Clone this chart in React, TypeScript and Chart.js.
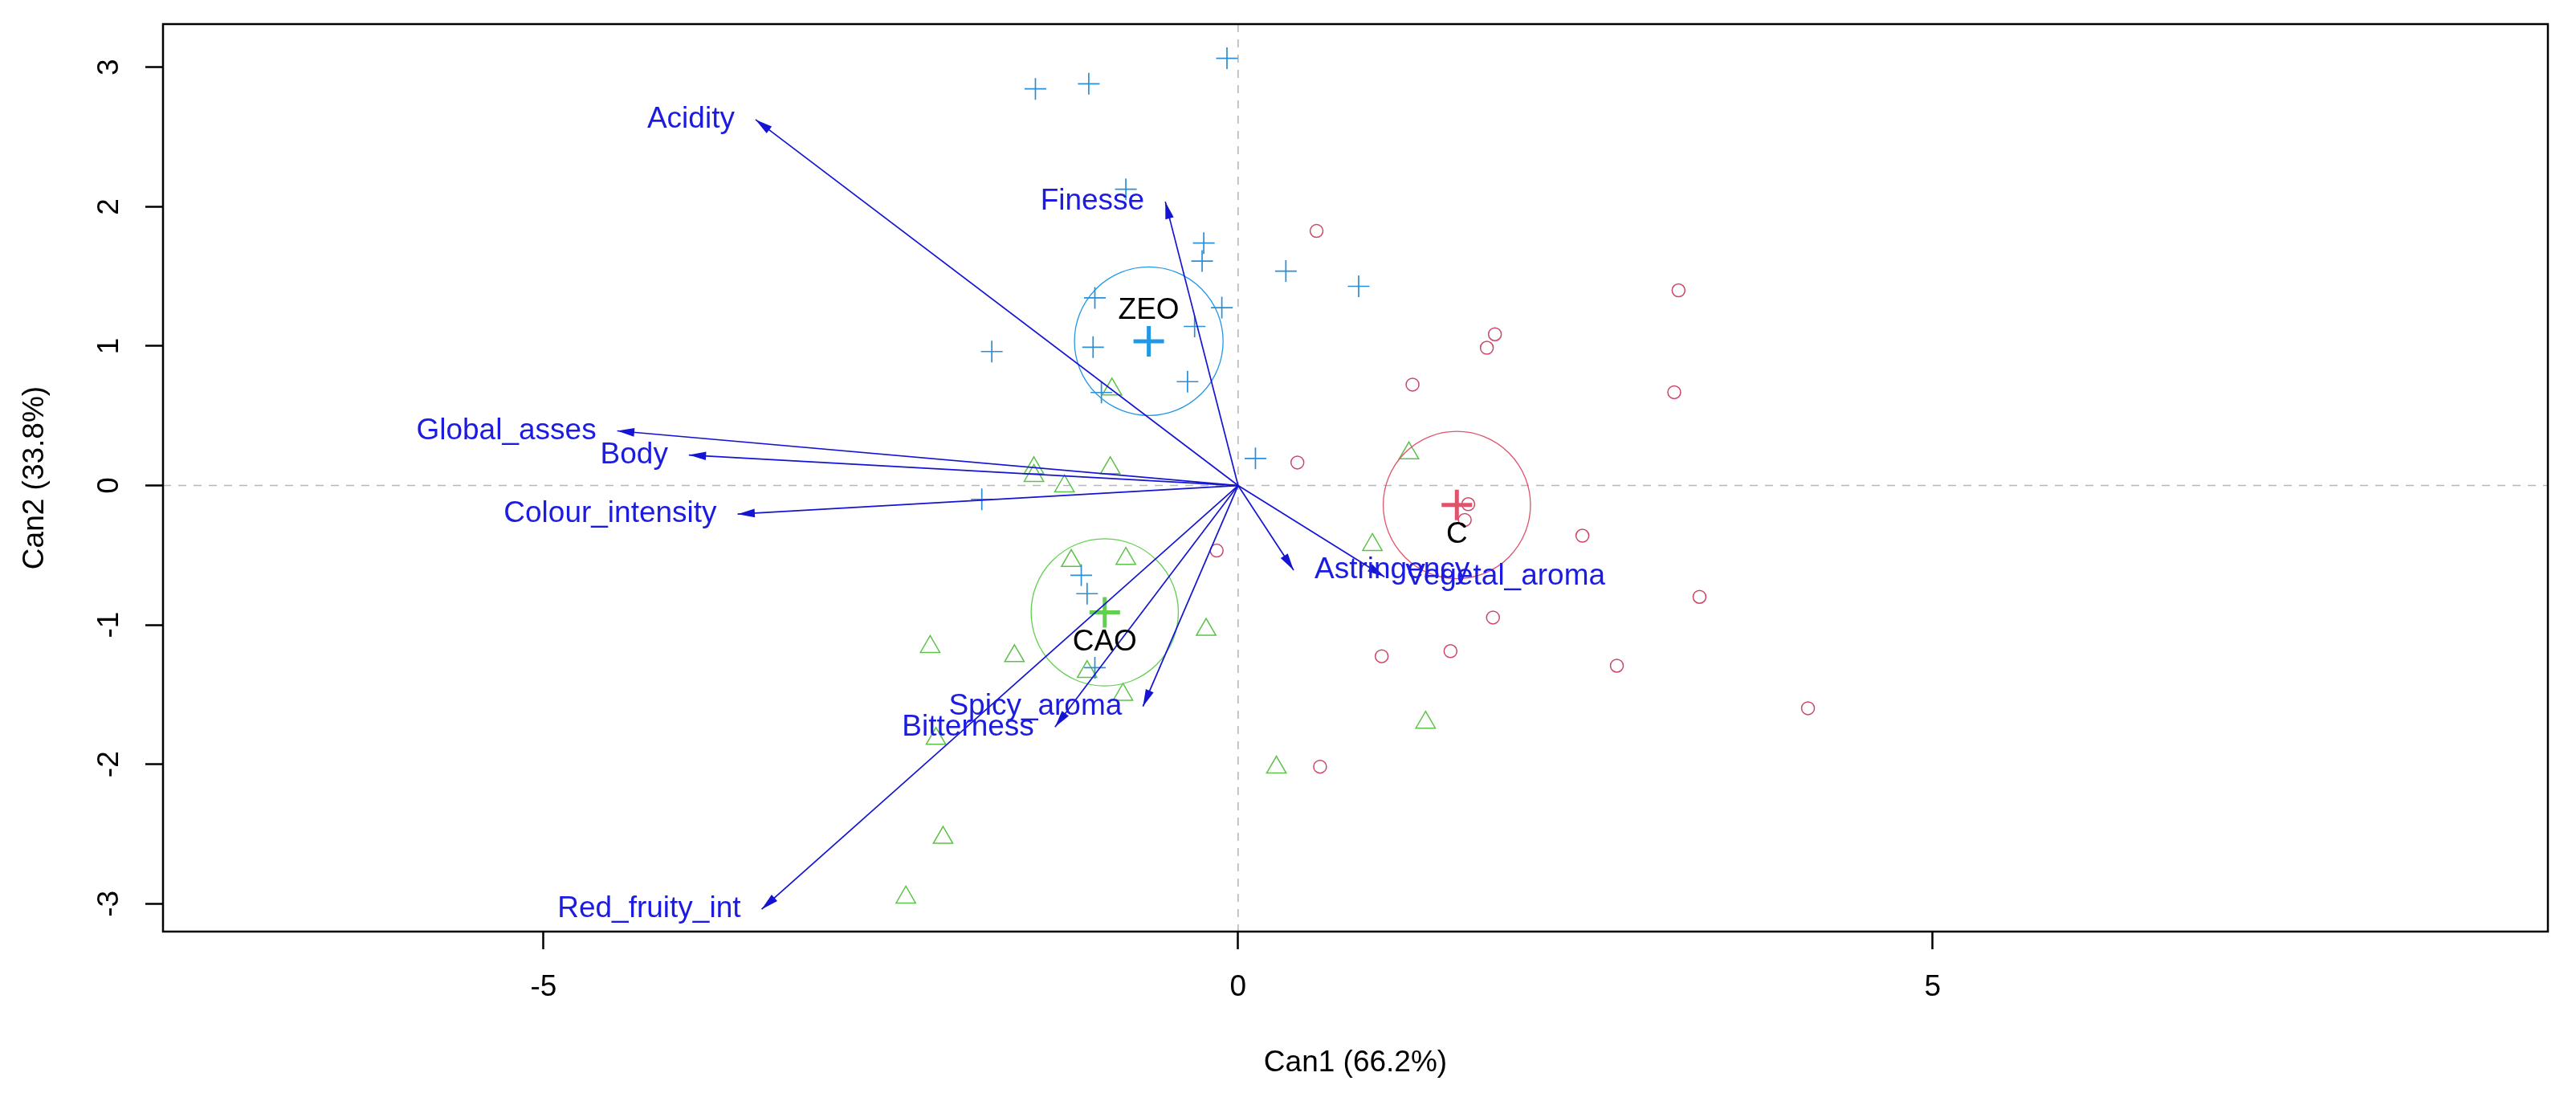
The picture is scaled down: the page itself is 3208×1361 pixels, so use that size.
import React, { useEffect, useRef } from 'react';
import { Chart, registerables } from 'chart.js';

Chart.register(...registerables);

// ---- Axes ----
const xTicks = [-5, 0, 5];
const yTicks = [-3, -2, -1, 0, 1, 2, 3];
const xRange = [-7.74, 9.43];
const yRange = [-3.2, 3.31];
const xTitle = 'Can1 (66.2%)';
const yTitle = 'Can2 (33.8%)';

// ---- Groups ----
const groupNames = ['C', 'CAO', 'ZEO'];
const groupColors = ['#DF536B', '#61D04F', '#2297E6'];
const meanX = [1.575, -0.96, -0.643];
const meanY = [-0.14, -0.91, 1.035];
const circleR = [0.53, 0.53, 0.535];

// ---- Observations (canonical scores) ----
const cX = [0.565, 3.171, 1.849, 1.791, 1.256, 3.14, 0.427, 1.657, 1.632, 2.479, 3.322, 1.835, 1.034, 1.529, 2.727, 4.103, -0.154, 0.59];
const cY = [1.826, 1.4, 1.085, 0.988, 0.724, 0.669, 0.165, -0.134, -0.247, -0.36, -0.799, -0.947, -1.225, -1.188, -1.293, -1.598, -0.467, -2.017];

const caoX = [-0.908, -1.47, -1.47, -1.25, -0.92, -1.201, -0.808, -0.23, -2.217, -1.61, -1.087, -0.829, -2.175, 0.276, -2.124, -2.392, 1.23, 0.967, 1.35];
const caoY = [0.69, 0.125, 0.07, -0.005, 0.125, -0.54, -0.525, -1.034, -1.157, -1.223, -1.337, -1.5, -1.816, -2.022, -2.526, -2.955, 0.232, -0.426, -1.7];

const zeoX = [-0.08, -1.459, -1.075, -0.808, -0.247, -0.259, 0.344, 0.868, -1.031, -0.117, -0.313, -1.773, -1.044, -0.364, -0.984, 0.125, -1.845, -1.129, -1.087, -1.031];
const zeoY = [3.065, 2.845, 2.882, 2.125, 1.739, 1.61, 1.538, 1.429, 1.346, 1.276, 1.141, 0.961, 0.992, 0.745, 0.667, 0.194, -0.099, -0.644, -0.776, -1.307];

// ---- Variable structure vectors ----
const varNames = ['Acidity', 'Finesse', 'Global_asses', 'Body', 'Colour_intensity', 'Red_fruity_int', 'Bitterness', 'Spicy_aroma', 'Astringency', 'Vegetal_aroma'];
const varX = [-3.474, -0.524, -4.47, -3.954, -3.603, -3.43, -1.318, -0.685, 0.4, 1.054];
const varY = [2.625, 2.036, 0.392, 0.219, -0.205, -3.04, -1.733, -1.585, -0.607, -0.655];

const FONT_FAMILY = '"Liberation Sans", Arial, Helvetica, sans-serif';
const FONT_SIZE = 37;
const ARROW_COLOR = '#1414d2';
const VAR_TEXT_COLOR = 'rgb(28,28,225)';
const POINT_COLORS = ['#CC4766', '#5CC24A', '#2A8FD8'];

const pts = (xs: number[], ys: number[]) => xs.map((v, i) => ({ x: v, y: ys[i] }));

const overlayPlugin = {
  id: 'overlay',
  beforeDatasetsDraw(chart: any) {
    const { ctx, chartArea: a, scales } = chart;
    const x0 = scales.x.getPixelForValue(0);
    const y0 = scales.y.getPixelForValue(0);
    ctx.save();
    ctx.strokeStyle = '#b8b8b8';
    ctx.lineWidth = 1.6;
    ctx.setLineDash([10, 9]);
    ctx.beginPath();
    ctx.moveTo(a.left, y0);
    ctx.lineTo(a.right, y0);
    ctx.moveTo(x0, a.top);
    ctx.lineTo(x0, a.bottom);
    ctx.stroke();
    ctx.restore();
  },
  afterDatasetsDraw(chart: any) {
    const { ctx, scales } = chart;
    const ox = scales.x.getPixelForValue(0);
    const oy = scales.y.getPixelForValue(0);
    ctx.save();
    ctx.fillStyle = ARROW_COLOR;
    const L = 22;
    const th = (14 * Math.PI) / 180;
    varNames.forEach((_, i) => {
      const px = scales.x.getPixelForValue(varX[i]);
      const py = scales.y.getPixelForValue(varY[i]);
      const ang = Math.atan2(py - oy, px - ox);
      ctx.beginPath();
      ctx.moveTo(px, py);
      ctx.lineTo(px - L * Math.cos(ang - th), py - L * Math.sin(ang - th));
      ctx.lineTo(px - L * Math.cos(ang + th), py - L * Math.sin(ang + th));
      ctx.closePath();
      ctx.fill();
    });
    ctx.font = `${FONT_SIZE}px ${FONT_FAMILY}`;
    ctx.fillStyle = VAR_TEXT_COLOR;
    ctx.textBaseline = 'middle';
    varNames.forEach((name, i) => {
      const px = scales.x.getPixelForValue(varX[i]);
      const py = scales.y.getPixelForValue(varY[i]);
      if (varX[i] < 0) {
        ctx.textAlign = 'right';
        ctx.fillText(name, px - 26, py);
      } else {
        ctx.textAlign = 'left';
        ctx.fillText(name, px + 26, py);
      }
    });
    ctx.fillStyle = '#000';
    ctx.textAlign = 'center';
    groupNames.forEach((name, i) => {
      const px = scales.x.getPixelForValue(meanX[i]);
      const py = scales.y.getPixelForValue(meanY[i]);
      ctx.fillText(name, px, py + (meanY[i] > 0 ? -38 : 37));
    });
    ctx.restore();
  },
  afterDraw(chart: any) {
    const { ctx, chartArea: a } = chart;
    ctx.save();
    ctx.strokeStyle = '#000';
    ctx.lineWidth = 2.5;
    ctx.strokeRect(a.left, a.top, a.right - a.left, a.bottom - a.top);
    ctx.restore();
  },
};

export default function App() {
  const ref = useRef<HTMLCanvasElement | null>(null);

  useEffect(() => {
    document.body.style.margin = '0';
    document.body.style.overflow = 'hidden';
    document.body.style.background = '#fff';
    Chart.defaults.font.family = FONT_FAMILY;

    const arrowSets = varNames.map((name, i) => ({
      label: name,
      data: [{ x: 0, y: 0 }, { x: varX[i], y: varY[i] }],
      showLine: true,
      borderColor: ARROW_COLOR,
      borderWidth: 1.7,
      pointRadius: 0,
      fill: false,
    }));

    const chart = new Chart(ref.current as HTMLCanvasElement, {
      type: 'scatter',
      data: {
        datasets: [
          ...arrowSets,
          {
            label: 'means',
            data: pts(meanX, meanY),
            pointStyle: 'cross',
            pointRadius: 19,
            pointBorderWidth: 5,
            pointBorderColor: groupColors,
            pointBackgroundColor: groupColors,
          },
          {
            label: 'circles',
            data: pts(meanX, meanY),
            pointStyle: 'circle',
            pointRadius: (c: any) => {
              const s = c.chart.scales && c.chart.scales.x;
              if (!s) return 0;
              return Math.abs(s.getPixelForValue(circleR[c.dataIndex]) - s.getPixelForValue(0));
            },
            pointBorderWidth: 1.3,
            pointBorderColor: groupColors,
            pointBackgroundColor: 'rgba(0,0,0,0)',
          },
          {
            label: groupNames[2],
            data: pts(zeoX, zeoY),
            pointStyle: 'cross',
            pointRadius: 13.5,
            pointBorderWidth: 1.7,
            pointBorderColor: POINT_COLORS[2],
            pointBackgroundColor: POINT_COLORS[2],
          },
          {
            label: groupNames[1],
            data: pts(caoX, caoY),
            pointStyle: 'triangle',
            pointRadius: 14,
            pointBorderWidth: 1.5,
            pointBorderColor: POINT_COLORS[1],
            pointBackgroundColor: 'rgba(0,0,0,0)',
          },
          {
            label: groupNames[0],
            data: pts(cX, cY),
            pointStyle: 'circle',
            pointRadius: 8,
            pointBorderWidth: 1.5,
            pointBorderColor: POINT_COLORS[0],
            pointBackgroundColor: 'rgba(0,0,0,0)',
          },
        ] as any,
      },
      options: {
        responsive: false,
        animation: false,
        devicePixelRatio: 1,
        events: [],
        layout: { padding: { left: 0, top: 30, right: 35, bottom: 0 } },
        plugins: {
          legend: { display: false },
          tooltip: { enabled: false },
        },
        scales: {
          x: {
            type: 'linear',
            min: xRange[0],
            max: xRange[1],
            afterBuildTicks: (s: any) => {
              s.ticks = xTicks.map((v) => ({ value: v }));
            },
            afterFit: (s: any) => {
              s.height = 201;
              s.paddingLeft = 0;
              s.paddingRight = 0;
            },
            grid: {
              display: true,
              drawOnChartArea: false,
              drawTicks: true,
              tickLength: 22,
              tickWidth: 2.5,
              tickColor: '#000',
            },
            border: { display: false },
            ticks: {
              color: '#000',
              padding: 26,
              maxRotation: 0,
              autoSkip: false,
              font: { size: FONT_SIZE, family: FONT_FAMILY },
            },
            title: {
              display: true,
              text: xTitle,
              color: '#000',
              font: { size: FONT_SIZE, family: FONT_FAMILY },
              padding: { top: 0, bottom: 15 },
            },
          },
          y: {
            type: 'linear',
            min: yRange[0],
            max: yRange[1],
            afterBuildTicks: (s: any) => {
              s.ticks = yTicks.map((v) => ({ value: v }));
            },
            afterFit: (s: any) => {
              s.width = 203;
              s.paddingTop = 0;
              s.paddingBottom = 0;
            },
            grid: {
              display: true,
              drawOnChartArea: false,
              drawTicks: true,
              tickLength: 22,
              tickWidth: 2.5,
              tickColor: '#000',
            },
            border: { display: false },
            ticks: {
              color: '#000',
              padding: 28,
              minRotation: 90,
              maxRotation: 90,
              crossAlign: 'center',
              autoSkip: false,
              font: { size: FONT_SIZE, family: FONT_FAMILY },
            },
            title: {
              display: true,
              text: yTitle,
              color: '#000',
              font: { size: FONT_SIZE, family: FONT_FAMILY },
              padding: { top: 22, bottom: 0 },
            },
          },
        },
      },
      plugins: [overlayPlugin],
    } as any);

    return () => chart.destroy();
  }, []);

  return (
    <div style={{ width: 3208, height: 1361, background: '#fff' }}>
      <canvas ref={ref} width={3208} height={1361} style={{ display: 'block' }} />
    </div>
  );
}
